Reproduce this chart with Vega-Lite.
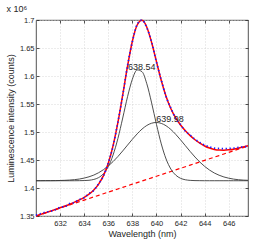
{
  "$schema": "https://vega.github.io/schema/vega-lite/v6.json",
  "autosize": "none",
  "width": 212,
  "height": 196,
  "padding": {"left": 36, "top": 20, "right": 26, "bottom": 30},
  "background": "white",
  "config": {
    "font": "Liberation Sans",
    "view": {"stroke": "#262626", "strokeWidth": 0.8},
    "axis": {
      "domain": false,
      "grid": true,
      "gridColor": "#cfcfcf",
      "gridDash": [1, 2],
      "gridWidth": 0.8,
      "tickColor": "#262626",
      "tickWidth": 0.8,
      "tickSize": -3,
      "labelFontSize": 7.5,
      "labelColor": "#262626",
      "titleFontSize": 9,
      "titleFontWeight": "normal",
      "titleColor": "#262626"
    }
  },
  "title": {"text": "x 10⁶", "anchor": "start", "fontSize": 9, "fontWeight": "normal", "color": "#262626", "offset": 2},
  "datasets": {
    "spectrum": [
      {"wl": 630.0, "obs": 1.3515, "fit": 1.3500, "c1": 1.4130, "c2": 1.4130, "base": 1.3500},
      {"wl": 630.4, "obs": 1.3545, "fit": 1.3529, "c1": 1.4130, "c2": 1.4130, "base": 1.3528},
      {"wl": 630.8, "obs": 1.3568, "fit": 1.3558, "c1": 1.4130, "c2": 1.4131, "base": 1.3557},
      {"wl": 631.2, "obs": 1.3585, "fit": 1.3587, "c1": 1.4130, "c2": 1.4131, "base": 1.3585},
      {"wl": 631.6, "obs": 1.3612, "fit": 1.3616, "c1": 1.4130, "c2": 1.4132, "base": 1.3614},
      {"wl": 632.0, "obs": 1.3655, "fit": 1.3646, "c1": 1.4130, "c2": 1.4134, "base": 1.3642},
      {"wl": 632.4, "obs": 1.3668, "fit": 1.3678, "c1": 1.4130, "c2": 1.4137, "base": 1.3670},
      {"wl": 632.8, "obs": 1.3722, "fit": 1.3711, "c1": 1.4130, "c2": 1.4142, "base": 1.3699},
      {"wl": 633.2, "obs": 1.3741, "fit": 1.3747, "c1": 1.4130, "c2": 1.4149, "base": 1.3727},
      {"wl": 633.6, "obs": 1.3795, "fit": 1.3787, "c1": 1.4131, "c2": 1.4160, "base": 1.3756},
      {"wl": 634.0, "obs": 1.3826, "fit": 1.3833, "c1": 1.4133, "c2": 1.4177, "base": 1.3784},
      {"wl": 634.4, "obs": 1.3901, "fit": 1.3890, "c1": 1.4138, "c2": 1.4200, "base": 1.3812},
      {"wl": 634.8, "obs": 1.3958, "fit": 1.3965, "c1": 1.4153, "c2": 1.4231, "base": 1.3841},
      {"wl": 635.2, "obs": 1.4078, "fit": 1.4069, "c1": 1.4186, "c2": 1.4273, "base": 1.3869},
      {"wl": 635.6, "obs": 1.4212, "fit": 1.4220, "c1": 1.4255, "c2": 1.4327, "base": 1.3898},
      {"wl": 636.0, "obs": 1.4450, "fit": 1.4441, "c1": 1.4382, "c2": 1.4393, "base": 1.3926},
      {"wl": 636.4, "obs": 1.4748, "fit": 1.4756, "c1": 1.4590, "c2": 1.4472, "base": 1.3954},
      {"wl": 636.8, "obs": 1.5180, "fit": 1.5170, "c1": 1.4885, "c2": 1.4562, "base": 1.3983},
      {"wl": 637.2, "obs": 1.5655, "fit": 1.5663, "c1": 1.5250, "c2": 1.4662, "base": 1.4011},
      {"wl": 637.6, "obs": 1.6185, "fit": 1.6176, "c1": 1.5630, "c2": 1.4766, "base": 1.4040},
      {"wl": 638.0, "obs": 1.6612, "fit": 1.6621, "c1": 1.5943, "c2": 1.4870, "base": 1.4068},
      {"wl": 638.4, "obs": 1.6920, "fit": 1.6911, "c1": 1.6108, "c2": 1.4967, "base": 1.4096},
      {"wl": 638.8, "obs": 1.6998, "fit": 1.6994, "c1": 1.6077, "c2": 1.5052, "base": 1.4125},
      {"wl": 639.2, "obs": 1.6862, "fit": 1.6871, "c1": 1.5861, "c2": 1.5117, "base": 1.4153},
      {"wl": 639.6, "obs": 1.6605, "fit": 1.6598, "c1": 1.5519, "c2": 1.5157, "base": 1.4182},
      {"wl": 640.0, "obs": 1.6248, "fit": 1.6256, "c1": 1.5136, "c2": 1.5170, "base": 1.4210},
      {"wl": 640.4, "obs": 1.5928, "fit": 1.5920, "c1": 1.4788, "c2": 1.5154, "base": 1.4238},
      {"wl": 640.8, "obs": 1.5629, "fit": 1.5636, "c1": 1.4518, "c2": 1.5111, "base": 1.4267},
      {"wl": 641.2, "obs": 1.5425, "fit": 1.5416, "c1": 1.4337, "c2": 1.5044, "base": 1.4295},
      {"wl": 641.6, "obs": 1.5243, "fit": 1.5251, "c1": 1.4230, "c2": 1.4958, "base": 1.4324},
      {"wl": 642.0, "obs": 1.5132, "fit": 1.5125, "c1": 1.4173, "c2": 1.4860, "base": 1.4352},
      {"wl": 642.4, "obs": 1.5015, "fit": 1.5023, "c1": 1.4147, "c2": 1.4756, "base": 1.4380},
      {"wl": 642.8, "obs": 1.4944, "fit": 1.4936, "c1": 1.4136, "c2": 1.4652, "base": 1.4409},
      {"wl": 643.2, "obs": 1.4870, "fit": 1.4862, "c1": 1.4132, "c2": 1.4553, "base": 1.4437},
      {"wl": 643.6, "obs": 1.4812, "fit": 1.4800, "c1": 1.4131, "c2": 1.4463, "base": 1.4466},
      {"wl": 644.0, "obs": 1.4765, "fit": 1.4750, "c1": 1.4130, "c2": 1.4386, "base": 1.4494},
      {"wl": 644.4, "obs": 1.4735, "fit": 1.4713, "c1": 1.4130, "c2": 1.4321, "base": 1.4522},
      {"wl": 644.8, "obs": 1.4712, "fit": 1.4689, "c1": 1.4130, "c2": 1.4268, "base": 1.4551},
      {"wl": 645.2, "obs": 1.4705, "fit": 1.4677, "c1": 1.4130, "c2": 1.4228, "base": 1.4579},
      {"wl": 645.6, "obs": 1.4702, "fit": 1.4675, "c1": 1.4130, "c2": 1.4197, "base": 1.4608},
      {"wl": 646.0, "obs": 1.4708, "fit": 1.4681, "c1": 1.4130, "c2": 1.4175, "base": 1.4636},
      {"wl": 646.4, "obs": 1.4712, "fit": 1.4693, "c1": 1.4130, "c2": 1.4159, "base": 1.4664},
      {"wl": 646.8, "obs": 1.4725, "fit": 1.4711, "c1": 1.4130, "c2": 1.4148, "base": 1.4693},
      {"wl": 647.2, "obs": 1.4735, "fit": 1.4732, "c1": 1.4130, "c2": 1.4141, "base": 1.4721},
      {"wl": 647.6, "obs": 1.4742, "fit": 1.4756, "c1": 1.4130, "c2": 1.4137, "base": 1.4750}
    ],
    "peaks": [
      {"label": "638.54", "wl": 638.54, "v": 1.6108},
      {"label": "639.98", "wl": 639.98, "v": 1.5170}
    ]
  },
  "data": {"name": "spectrum"},
  "resolve": {"axis": {"x": "independent", "y": "independent"}},
  "layer": [
    {
      "mark": {"type": "line", "color": "#ff0000", "strokeWidth": 1.2, "strokeDash": [4, 3]},
      "encoding": {
        "x": {"field": "wl", "type": "quantitative", "scale": {"domain": [630, 647.6], "nice": false, "zero": false},
              "axis": {"values": [632, 634, 636, 638, 640, 642, 644, 646], "title": "Wavelength (nm)", "labelPadding": 6, "titlePadding": 3}},
        "y": {"field": "base", "type": "quantitative", "scale": {"domain": [1.35, 1.7], "nice": false, "zero": false},
              "axis": {"values": [1.35, 1.4, 1.45, 1.5, 1.55, 1.6, 1.65, 1.7], "format": ".2~f", "title": "Luminescence intensity (counts)", "labelPadding": 5, "titlePadding": 4}}
      }
    },
    {
      "mark": {"type": "line", "color": "#ffffff", "opacity": 0},
      "encoding": {
        "x": {"field": "wl", "type": "quantitative", "axis": {"orient": "top", "labels": false, "grid": false, "title": null, "values": [632, 634, 636, 638, 640, 642, 644, 646]}},
        "y": {"field": "base", "type": "quantitative", "axis": {"orient": "right", "labels": false, "grid": false, "title": null, "values": [1.35, 1.4, 1.45, 1.5, 1.55, 1.6, 1.65, 1.7]}}
      }
    },
    {
      "mark": {"type": "line", "color": "#3a3a3a", "strokeWidth": 0.9, "interpolate": "monotone"},
      "encoding": {
        "x": {"field": "wl", "type": "quantitative", "axis": null},
        "y": {"field": "c1", "type": "quantitative", "axis": null}
      }
    },
    {
      "mark": {"type": "line", "color": "#3a3a3a", "strokeWidth": 0.9, "interpolate": "monotone"},
      "encoding": {
        "x": {"field": "wl", "type": "quantitative", "axis": null},
        "y": {"field": "c2", "type": "quantitative", "axis": null}
      }
    },
    {
      "mark": {"type": "line", "color": "#ff0000", "strokeWidth": 1.5, "interpolate": "monotone"},
      "encoding": {
        "x": {"field": "wl", "type": "quantitative", "axis": null},
        "y": {"field": "fit", "type": "quantitative", "axis": null}
      }
    },
    {
      "mark": {"type": "line", "color": "#1a1aff", "strokeWidth": 1.7, "strokeDash": [1.3, 2.6], "interpolate": "monotone"},
      "encoding": {
        "x": {"field": "wl", "type": "quantitative", "axis": null},
        "y": {"field": "obs", "type": "quantitative", "axis": null}
      }
    },
    {
      "data": {"name": "peaks"},
      "transform": [{"filter": "datum.label == '638.54'"}],
      "mark": {"type": "text", "fontSize": 9, "align": "center", "baseline": "alphabetic", "dx": 3, "dy": 0, "color": "#262626"},
      "encoding": {
        "x": {"field": "wl", "type": "quantitative", "axis": null},
        "y": {"field": "v", "type": "quantitative", "axis": null},
        "text": {"field": "label"}
      }
    },
    {
      "data": {"name": "peaks"},
      "transform": [{"filter": "datum.label == '639.98'"}],
      "mark": {"type": "text", "fontSize": 9, "align": "left", "baseline": "alphabetic", "dx": 0, "dy": 0, "color": "#262626"},
      "encoding": {
        "x": {"field": "wl", "type": "quantitative", "axis": null},
        "y": {"field": "v", "type": "quantitative", "axis": null},
        "text": {"field": "label"}
      }
    }
  ]
}
